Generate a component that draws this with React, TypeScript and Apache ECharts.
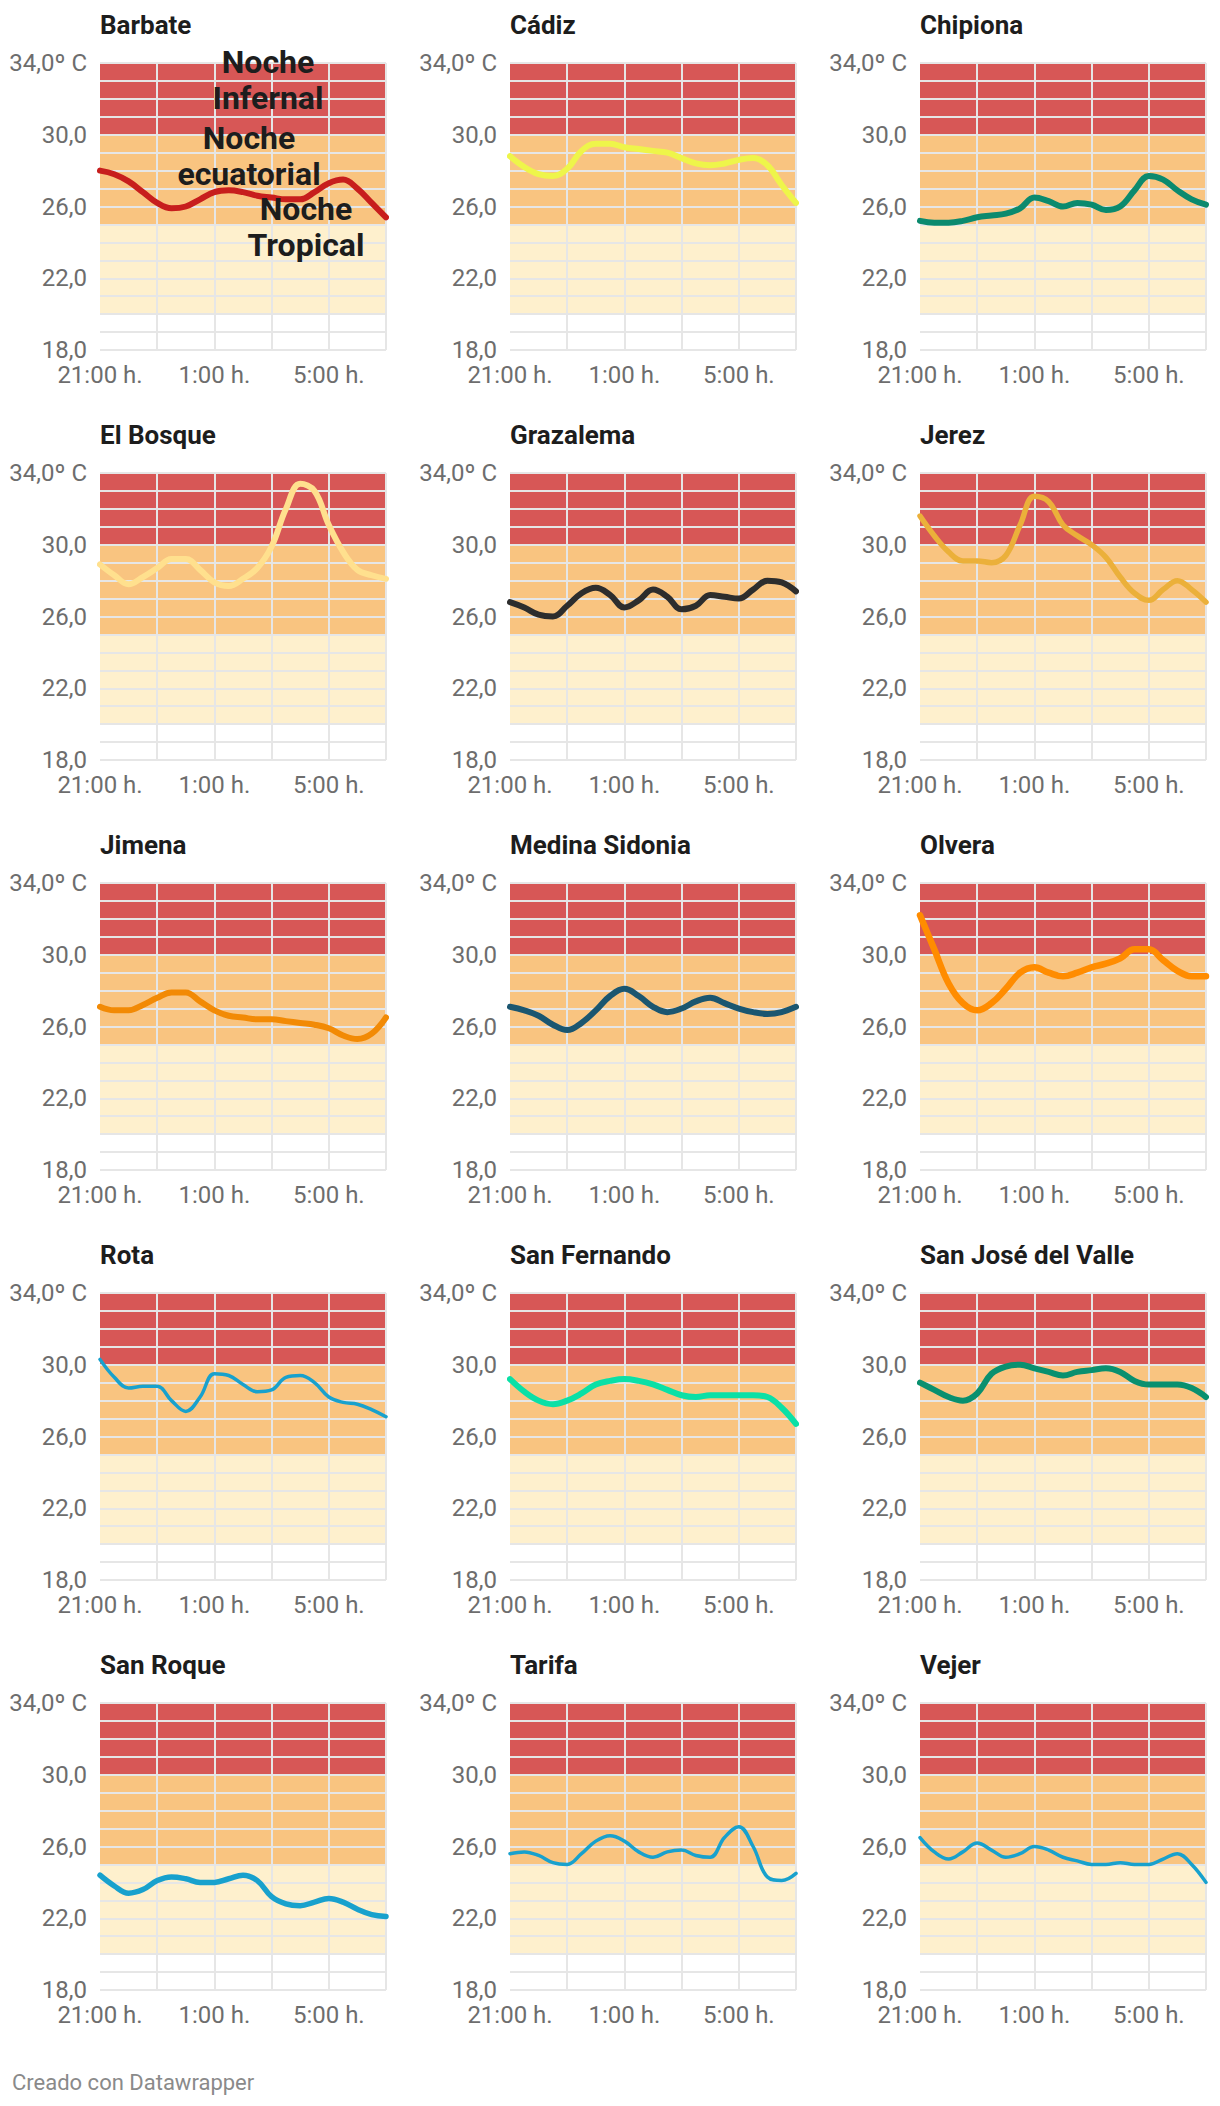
import React, { useEffect, useRef } from "react";
import * as echarts from "echarts";

const times = [
  "21:00 h.", "21:30 h.", "22:00 h.", "22:30 h.", "23:00 h.", "23:30 h.", "0:00 h.",
  "0:30 h.", "1:00 h.", "1:30 h.", "2:00 h.", "2:30 h.", "3:00 h.", "3:30 h.",
  "4:00 h.", "4:30 h.", "5:00 h.", "5:30 h.", "6:00 h.", "6:30 h.", "7:00 h.",
];

const yTicks = [18, 22, 26, 30, 34];
const yTickLabels = ["18,0", "22,0", "26,0", "30,0", "34,0º C"];

const stations = [
  "Barbate", "Cádiz", "Chipiona", "El Bosque", "Grazalema", "Jerez", "Jimena",
  "Medina Sidonia", "Olvera", "Rota", "San Fernando", "San José del Valle",
  "San Roque", "Tarifa", "Vejer",
];

const barbate = [28.0, 27.8, 27.4, 26.8, 26.2, 25.9, 26.0, 26.4, 26.8, 26.9, 26.8, 26.6, 26.5, 26.4, 26.4, 26.8, 27.3, 27.5, 27.0, 26.2, 25.4];
const cadiz = [28.8, 28.2, 27.8, 27.7, 28.1, 29.1, 29.5, 29.5, 29.3, 29.2, 29.1, 29.0, 28.7, 28.4, 28.3, 28.4, 28.6, 28.7, 28.3, 27.2, 26.2];
const chipiona = [25.2, 25.1, 25.1, 25.2, 25.4, 25.5, 25.6, 25.9, 26.5, 26.3, 26.0, 26.2, 26.1, 25.8, 26.0, 26.9, 27.7, 27.5, 26.9, 26.4, 26.1];
const elBosque = [28.9, 28.3, 27.8, 28.2, 28.7, 29.2, 29.2, 28.6, 27.9, 27.7, 28.1, 28.7, 29.9, 32.0, 33.4, 33.0, 31.1, 29.6, 28.6, 28.3, 28.1];
const grazalema = [26.8, 26.5, 26.1, 26.0, 26.6, 27.3, 27.6, 27.2, 26.5, 26.9, 27.5, 27.1, 26.4, 26.6, 27.2, 27.1, 27.0, 27.5, 28.0, 27.9, 27.4];
const jerez = [31.6, 30.5, 29.6, 29.1, 29.1, 29.0, 29.4, 31.1, 32.7, 32.4, 31.1, 30.5, 30.0, 29.3, 28.2, 27.3, 26.9, 27.5, 28.0, 27.5, 26.8];
const jimena = [27.1, 26.9, 26.9, 27.2, 27.6, 27.9, 27.9, 27.4, 26.9, 26.6, 26.5, 26.4, 26.4, 26.3, 26.2, 26.1, 25.9, 25.5, 25.3, 25.6, 26.5];
const medinaSidonia = [27.1, 26.9, 26.6, 26.1, 25.8, 26.2, 26.9, 27.7, 28.1, 27.7, 27.1, 26.8, 27.0, 27.4, 27.6, 27.3, 27.0, 26.8, 26.7, 26.8, 27.1];
const olvera = [32.2, 30.3, 28.4, 27.3, 26.9, 27.3, 28.1, 29.0, 29.3, 29.0, 28.8, 29.0, 29.3, 29.5, 29.8, 30.3, 30.3, 29.7, 29.1, 28.8, 28.8];
const rota = [30.3, 29.3, 28.7, 28.8, 28.8, 28.0, 27.4, 28.2, 29.5, 29.4, 28.9, 28.5, 28.6, 29.3, 29.4, 29.0, 28.2, 27.9, 27.8, 27.5, 27.1];
const sanFernando = [29.2, 28.5, 28.0, 27.8, 28.0, 28.4, 28.9, 29.1, 29.2, 29.1, 28.9, 28.6, 28.3, 28.2, 28.3, 28.3, 28.3, 28.3, 28.2, 27.6, 26.7];
const sanJose = [29.0, 28.6, 28.2, 28.0, 28.4, 29.5, 29.9, 30.0, 29.8, 29.6, 29.4, 29.6, 29.7, 29.8, 29.6, 29.1, 28.9, 28.9, 28.9, 28.7, 28.2];
const sanRoque = [24.4, 23.8, 23.4, 23.6, 24.1, 24.3, 24.2, 24.0, 24.0, 24.2, 24.4, 24.1, 23.2, 22.8, 22.7, 22.9, 23.1, 22.9, 22.5, 22.2, 22.1];
const tarifa = [25.6, 25.7, 25.5, 25.1, 25.0, 25.6, 26.3, 26.6, 26.3, 25.7, 25.4, 25.7, 25.8, 25.5, 25.4, 26.5, 27.1, 26.0, 24.3, 24.1, 24.5];
const vejer = [26.5, 25.7, 25.3, 25.7, 26.2, 25.8, 25.4, 25.6, 26.0, 25.8, 25.4, 25.2, 25.0, 25.0, 25.1, 25.0, 25.0, 25.3, 25.6, 25.0, 24.0];

const seriesValues = [
  barbate, cadiz, chipiona, elBosque, grazalema, jerez, jimena, medinaSidonia,
  olvera, rota, sanFernando, sanJose, sanRoque, tarifa, vejer,
];

const lineColors = [
  "#c71e1d", "#eef54a", "#0b8a6e", "#ffe08e", "#2d2d2d", "#ebb03a", "#f28a05",
  "#1b5670", "#ff8c00", "#18a1cd", "#0ae0a6", "#09906f", "#18a1cd", "#18a1cd", "#18a1cd",
];
const lineWidths = [6, 6, 6, 6, 6, 5.5, 6, 6, 6.5, 3.5, 6, 6, 5.5, 3.5, 3.5];

// band colours for each 1-degree interval from 18 to 34
const bandColors = [
  "#ffffff", "#ffffff",
  "#fef0cd", "#fef0cd", "#fef0cd", "#fef0cd", "#fef0cd",
  "#f9c480", "#f9c480", "#f9c480", "#f9c480", "#f9c480",
  "#d75756", "#d75756", "#d75756", "#d75756",
];

const annotations = [
  { text: "Noche\nInfernal", x: 268, y: 80 },
  { text: "Noche\necuatorial", x: 249, y: 156 },
  { text: "Noche\nTropical", x: 306, y: 227 },
];

export default function App() {
  const ref = useRef<HTMLDivElement>(null);
  useEffect(() => {
    document.body.style.margin = "0";
    const chart = echarts.init(ref.current!, null, { renderer: "svg" });
    const grids: any[] = [];
    const xAxes: any[] = [];
    const yAxes: any[] = [];
    const series: any[] = [];
    const titles: any[] = [];
    const font = "Roboto";
    stations.forEach((name, i) => {
      const c = i % 3;
      const r = Math.floor(i / 3);
      const left = 100 + c * 410;
      const top = 63 + r * 410;
      grids.push({ left, top, width: 286, height: 287 });
      xAxes.push({
        type: "category",
        gridIndex: i,
        data: times,
        boundaryGap: false,
        z: 1,
        axisLine: { show: false },
        axisTick: { show: false },
        axisLabel: {
          interval: 7,
          color: "#6d6d6d",
          fontSize: 24,
          fontFamily: font,
          margin: 13,
        },
        splitLine: {
          show: true,
          interval: 3,
          showMinLine: false,
          lineStyle: { color: "#e6e6e6", width: 2 },
        },
      });
      yAxes.push({
        type: "value",
        gridIndex: i,
        min: 18,
        max: 34,
        interval: 1,
        z: 0,
        axisLine: { show: false },
        axisTick: { show: false },
        axisLabel: {
          formatter: (v: number) => {
            const k = yTicks.indexOf(v);
            return k >= 0 ? yTickLabels[k] : "";
          },
          color: "#6d6d6d",
          fontSize: 24,
          fontFamily: font,
          margin: 13,
        },
        splitLine: { show: true, lineStyle: { color: "#e6e6e6", width: 2 } },
        splitArea: { show: true, areaStyle: { color: bandColors, opacity: 1 } },
      });
      series.push({
        type: "line",
        name,
        xAxisIndex: i,
        yAxisIndex: i,
        data: seriesValues[i],
        smooth: 0.4,
        showSymbol: false,
        symbol: "none",
        z: 3,
        lineStyle: { color: lineColors[i], width: lineWidths[i], cap: "round", join: "round" },
      });
      titles.push({
        text: name,
        left,
        top: 12 + r * 410,
        padding: 0,
        textStyle: { fontFamily: font, fontWeight: "bold", fontSize: 26, color: "#1d1d1d" },
      });
    });

    const graphics: any[] = annotations.map((a) => ({
      type: "text",
      x: a.x,
      y: a.y,
      z: 100,
      style: {
        text: a.text,
        fill: "#1d1d1d",
        fontFamily: font,
        fontWeight: "bold",
        fontSize: 32,
        lineHeight: 36,
        align: "center",
        verticalAlign: "middle",
      },
    }));
    graphics.push({
      type: "text",
      left: 12,
      top: 2071,
      z: 100,
      style: {
        text: "Creado con Datawrapper",
        fill: "#8a8a8a",
        fontFamily: font,
        fontSize: 22,
      },
    });

    chart.setOption({
      animation: false,
      backgroundColor: "#ffffff",
      title: titles,
      grid: grids,
      xAxis: xAxes,
      yAxis: yAxes,
      series,
      graphic: graphics,
    });
    return () => chart.dispose();
  }, []);
  return <div ref={ref} style={{ width: 1220, height: 2106 }} />;
}
